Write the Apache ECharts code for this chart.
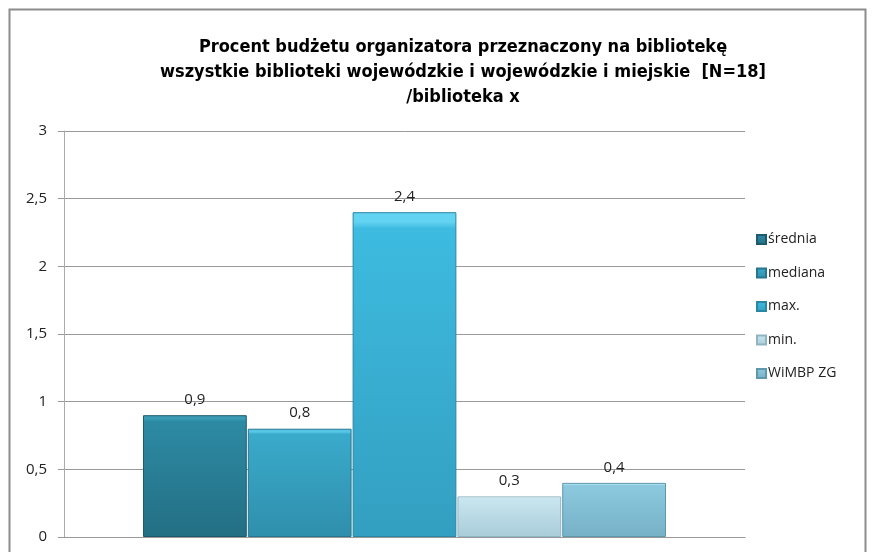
<!DOCTYPE html>
<html>
<head>
<meta charset="utf-8">
<script src="https://cdn.jsdelivr.net/npm/echarts@6/dist/echarts.min.js"></script>
<style>html,body{margin:0;padding:0;background:#fff}#c{width:874px;height:552px}</style>
</head>
<body>
<div id="c"></div>
<script>
var categories = ['biblioteka x'];
var seriesNames = ['średnia', 'mediana', 'max.', 'min.', 'WiMBP ZG'];
var seriesValues = [[0.9], [0.8], [2.4], [0.3], [0.4]];
var yTicks = [0, 0.5, 1, 1.5, 2, 2.5, 3];

// [top bevel, upper body, lower body, border]
var palette = [
  ['#3a9bb5', '#2d8aa3', '#236f84', '#1d5b6c'],
  ['#55c6e6', '#3aaacb', '#2f8fac', '#26768e'],
  ['#63d3f2', '#3dbbe0', '#339fc0', '#2a86a3'],
  ['#e6f6fb', '#c8e6ef', '#a9ccd9', '#90b5c2'],
  ['#a6def0', '#8cc9df', '#76b1c6', '#5f98ab']
];
var titleFont = "'Liberation Sans Narrow','DejaVu Sans Condensed','Liberation Sans',sans-serif";
var bodyFont = "'Open Sans','Noto Sans',sans-serif";

var chart = echarts.init(document.getElementById('c'), null, {renderer: 'canvas'});
var series = seriesNames.map(function (n, i) {
  return {
    name: n,
    type: 'bar',
    barGap: '1%',
    barCategoryGap: '23.2%',
    data: seriesValues[i],
    itemStyle: {
      color: new echarts.graphic.LinearGradient(0, 0, 0, 1, [
        {offset: 0, color: palette[i][0]},
        {offset: 0.03, color: palette[i][0]},
        {offset: 0.05, color: palette[i][1]},
        {offset: 1, color: palette[i][2]}
      ]),
      borderColor: palette[i][3],
      borderWidth: 1
    },
    label: {
      show: true,
      position: 'top',
      distance: 8,
      color: '#222',
      fontSize: 15,
      fontFamily: bodyFont,
      formatter: function (p) { return String(p.value).replace('.', ','); }
    }
  };
});

chart.setOption({
  animation: false,
  backgroundColor: '#fff',
  title: {
    text: 'Procent budżetu organizatora przeznaczony na bibliotekę\nwszystkie biblioteki wojewódzkie i wojewódzkie i miejskie  [N=18]\n/biblioteka x',
    left: 463,
    textAlign: 'center',
    top: 35,
    padding: 0,
    textStyle: {fontSize: 18, fontWeight: 'bold', color: '#000', fontFamily: titleFont, lineHeight: 25}
  },
  legend: {
    orient: 'vertical',
    left: 756,
    top: 232,
    padding: 0,
    icon: 'rect',
    itemWidth: 9,
    itemHeight: 9,
    itemGap: 18.5,
    textStyle: {fontSize: 14, color: '#222', fontFamily: bodyFont, lineHeight: 15, padding: [0, 0, 0, -3]}
  },
  grid: {left: 64, top: 131, right: 129, bottom: 15, containLabel: false},
  xAxis: {
    type: 'category',
    data: categories,
    axisLine: {lineStyle: {color: '#999', width: 1}},
    axisTick: {show: false},
    axisLabel: {show: false}
  },
  yAxis: {
    type: 'value',
    min: yTicks[0],
    max: yTicks[yTicks.length - 1],
    interval: 0.5,
    axisLine: {show: true, lineStyle: {color: '#aaa'}},
    axisTick: {show: true, length: 6, lineStyle: {color: '#999'}},
    splitLine: {lineStyle: {color: '#999'}},
    axisLabel: {
      fontSize: 15, color: '#222', fontFamily: bodyFont, margin: 17,
      formatter: function (v) { return String(v).replace('.', ','); }
    }
  },
  graphic: [{
    type: 'rect', silent: true, z: -1,
    shape: {x: 9.5, y: 9.5, width: 856, height: 560},
    style: {fill: 'none', stroke: '#8c8c8c', lineWidth: 2}
  }],
  series: series
});
</script>
</body>
</html>
